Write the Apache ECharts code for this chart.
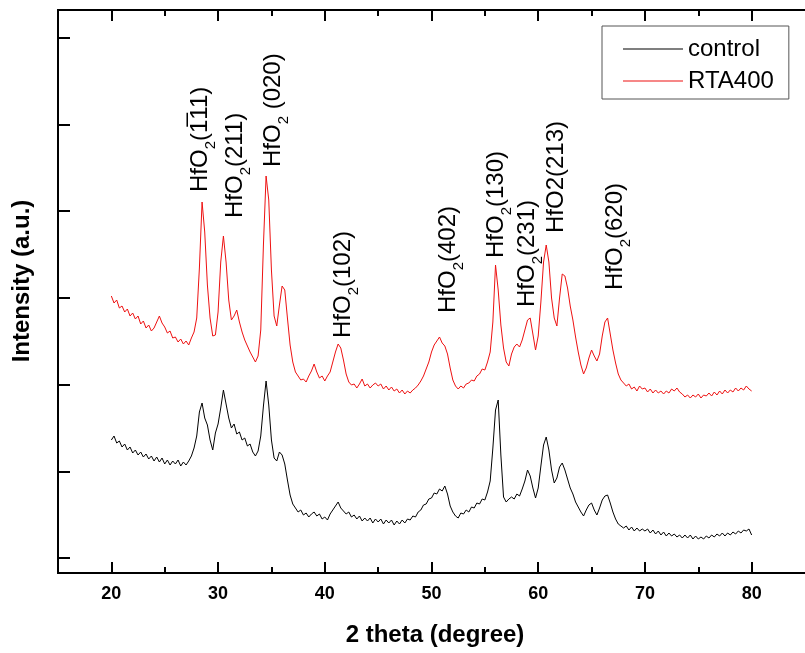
<!DOCTYPE html>
<html>
<head>
<meta charset="utf-8">
<script src="https://cdn.jsdelivr.net/npm/echarts@6/dist/echarts.min.js"></script>
<style>
  html, body { margin: 0; padding: 0; background: #fff; }
  #chart { width: 805px; height: 653px; }
</style>
</head>
<body>
<div id="chart"></div>
<script>
// scan from 20 to 80 degree, one reading every 0.25 degree
const thetaStart = 20
const thetaStep = 0.25

const controlData = [
  133, 137, 130, 132, 126, 129, 123, 126, 120, 123, 118, 121, 116, 119, 114, 117,
  112, 116, 111, 115, 109, 113, 108, 112, 109, 113, 107, 111, 108, 112, 117, 125,
  137, 161, 170, 155, 148, 133, 123, 140, 149, 165, 183, 169, 155, 145, 149, 139,
  141, 133, 135, 127, 129, 121, 117, 122, 137, 167, 192, 168, 133, 115, 112, 121,
  118, 109, 93, 78, 69, 65, 61, 63, 58, 60, 56, 59, 61, 57, 59, 54,
  56, 53, 59, 63, 67, 71, 65, 62, 59, 61, 56, 58, 54, 57, 52, 55,
  52, 55, 50, 54, 51, 54, 49, 53, 50, 53, 48, 52, 49, 53, 50, 54,
  53, 57, 56, 61, 63, 68, 69, 74, 75, 80, 79, 84, 82, 87, 79, 67,
  61, 57, 55, 60, 59, 63, 61, 66, 65, 70, 69, 74, 73, 81, 92, 125,
  163, 173, 118, 76, 71, 74, 76, 74, 79, 77, 84, 92, 103, 97, 85, 75,
  85, 107, 128, 136, 123, 103, 90, 95, 106, 110, 103, 94, 85, 79, 71, 66,
  61, 57, 63, 68, 70, 63, 58, 65, 73, 77, 78, 70, 61, 54, 49, 47,
  45, 47, 43, 46, 42, 45, 42, 44, 42, 44, 40, 43, 39, 42, 38, 41,
  37, 40, 37, 39, 36, 38, 35, 38, 35, 38, 34, 37, 34, 36, 34, 37,
  35, 38, 36, 39, 37, 40, 37, 40, 38, 41, 39, 42, 40, 43, 42, 44,
  38,
]

const rtaData = [
  277, 270, 273, 265, 267, 261, 264, 257, 260, 254, 257, 249, 252, 245, 248, 242,
  245, 251, 257, 250, 246, 240, 242, 235, 236, 231, 234, 229, 232, 228, 235, 241,
  255, 305, 371, 341, 288, 255, 237, 238, 261, 311, 337, 311, 273, 253, 257, 263,
  251, 241, 233, 227, 221, 216, 211, 217, 243, 328, 397, 373, 303, 257, 247, 268,
  287, 283, 255, 228, 211, 201, 197, 193, 194, 191, 197, 202, 209, 201, 195, 197,
  192, 197, 201, 211, 221, 229, 225, 213, 199, 191, 188, 189, 185, 189, 194, 187,
  189, 185, 188, 190, 187, 189, 184, 187, 183, 186, 182, 184, 180, 183, 179, 182,
  180, 183, 185, 188, 192, 197, 204, 211, 221, 228, 232, 236, 230, 227, 219, 205,
  193, 187, 184, 187, 185, 189, 190, 193, 192, 197, 199, 204, 203, 211, 221, 251,
  308, 283, 248, 225, 211, 207, 219, 226, 229, 226, 233, 243, 253, 255, 239, 223,
  237, 271, 311, 328, 311, 275, 255, 247, 275, 299, 297, 285, 267, 253, 236, 221,
  208, 199, 205, 215, 223, 217, 212, 219, 237, 251, 255, 239, 223, 210, 199, 193,
  190, 187, 189, 184, 186, 182, 187, 184, 185, 181, 184, 180, 183, 180, 182, 179,
  182, 180, 184, 182, 185, 181, 179, 176, 178, 175, 178, 176, 179, 175, 178, 177,
  180, 177, 181, 178, 182, 179, 183, 180, 183, 181, 185, 182, 185, 183, 187, 184,
  182,
]

const seriesNames = ['control', 'RTA400']
const seriesColors = ['#000000', '#ee1111']

const xMajorTicks = [20, 30, 40, 50, 60, 70, 80]
const xMinorTicks = [25, 35, 45, 55, 65, 75]
const xLabels = ['20', '30', '40', '50', '60', '70', '80']
const yTicks = [15, 101, 188, 275, 362, 448, 535]

// peak labels: 2theta, intensity where the label starts, text pieces (m = normal, s = subscript)
const peakLabels = [
  [28.0, 381, [['m', 'HfO'], ['s', '2'], ['m', '(1\u030511)']]],
  [31.2, 355, [['m', 'HfO'], ['s', '2'], ['m', '(211)']]],
  [34.8, 406, [['m', 'HfO'], ['s', '2'], ['m', ' (020)']]],
  [41.4, 235, [['m', 'HfO'], ['s', '2'], ['m', '(102)']]],
  [51.2, 260, [['m', 'HfO'], ['s', '2'], ['m', '(402)']]],
  [55.7, 315, [['m', 'HfO'], ['s', '2'], ['m', '(130)']]],
  [58.6, 266, [['m', 'HfO'], ['s', '2'], ['m', '(231)']]],
  [61.3, 340, [['m', 'HfO2(213)']]],
  [66.9, 283, [['m', 'HfO'], ['s', '2'], ['m', '(620)']]],
]

const fontFamily = '"Liberation Sans", Arial, sans-serif'

function toPairs(values) {
  return values.map((v, i) => [thetaStart + i * thetaStep, v])
}

function xAxisDef(position, ticks, tickLen, showLabel) {
  return {
    type: 'value',
    position: position,
    min: 15,
    max: 85,
    axisLine: { show: true, lineStyle: { color: '#000', width: 2 } },
    axisTick: {
      show: true,
      inside: true,
      length: tickLen,
      customValues: ticks,
      lineStyle: { color: '#000', width: 2 },
    },
    axisLabel: {
      show: showLabel,
      customValues: xMajorTicks,
      formatter: (v) => xLabels[xMajorTicks.indexOf(v)],
      margin: 12,
      color: '#000',
      fontSize: 18,
      fontWeight: 'bold',
      fontFamily: fontFamily,
    },
    splitLine: { show: false },
  }
}

const chart = echarts.init(document.getElementById('chart'))
const option = {
  animation: false,
  backgroundColor: '#fff',
  grid: {
    left: 58,
    right: -8,
    top: 10,
    bottom: 80,
  },
  legend: {
    data: seriesNames,
    orient: 'vertical',
    left: 602,
    top: 26,
    padding: [11, 15, 6, 21],
    itemGap: 8,
    icon: 'rect',
    itemWidth: 60,
    itemHeight: 1,
    borderColor: '#555',
    borderWidth: 1,
    textStyle: {
      color: '#000',
      fontSize: 24,
      fontFamily: fontFamily,
      lineHeight: 24,
    },
  },
  xAxis: [
    xAxisDef('bottom', xMajorTicks, 11, true),
    xAxisDef('bottom', xMinorTicks, 6, false),
    xAxisDef('top', xMajorTicks, 11, false),
    xAxisDef('top', xMinorTicks, 6, false),
  ],
  yAxis: {
    type: 'value',
    min: 0,
    max: 563,
    axisLine: { show: true, lineStyle: { color: '#000', width: 2 } },
    axisTick: {
      show: true,
      inside: true,
      length: 12,
      customValues: yTicks,
      lineStyle: { color: '#000', width: 2 },
    },
    axisLabel: { show: false },
    splitLine: { show: false },
  },
  series: [
    {
      name: seriesNames[0],
      type: 'line',
      data: toPairs(controlData),
      symbol: 'none',
      color: seriesColors[0],
      lineStyle: { width: 1, color: seriesColors[0] },
    },
    {
      name: seriesNames[1],
      type: 'line',
      data: toPairs(rtaData),
      symbol: 'none',
      color: seriesColors[1],
      lineStyle: { width: 1, color: seriesColors[1] },
    },
  ],
}
chart.setOption(option)

// rotated peak labels and axis titles
const labelShift = 7
const graphics = peakLabels.map(([theta, val, parts]) => {
  const pt = chart.convertToPixel({ gridIndex: 0 }, [theta, val])
  const text = parts.map(([st, p]) => '{' + st + '|' + p + '}').join('')
  return {
    type: 'text',
    x: pt[0] + labelShift,
    y: pt[1],
    rotation: Math.PI / 2,
    style: {
      text: text,
      align: 'left',
      verticalAlign: 'middle',
      fill: '#000',
      rich: {
        m: { fontSize: 24, fontFamily: fontFamily, lineHeight: 30, verticalAlign: 'top', fill: '#000' },
        s: { fontSize: 15, fontFamily: fontFamily, lineHeight: 12, verticalAlign: 'bottom', fill: '#000' },
      },
    },
  }
})

graphics.push({
  type: 'text',
  x: 435,
  y: 635,
  style: {
    text: '2 theta (degree)',
    align: 'center',
    verticalAlign: 'middle',
    fill: '#000',
    font: 'bold 24px ' + fontFamily,
  },
})
graphics.push({
  type: 'text',
  x: 22,
  y: 281,
  rotation: Math.PI / 2,
  style: {
    text: 'Intensity (a.u.)',
    align: 'center',
    verticalAlign: 'middle',
    fill: '#000',
    font: 'bold 24px ' + fontFamily,
  },
})

chart.setOption({ graphic: graphics })
</script>
</body>
</html>
